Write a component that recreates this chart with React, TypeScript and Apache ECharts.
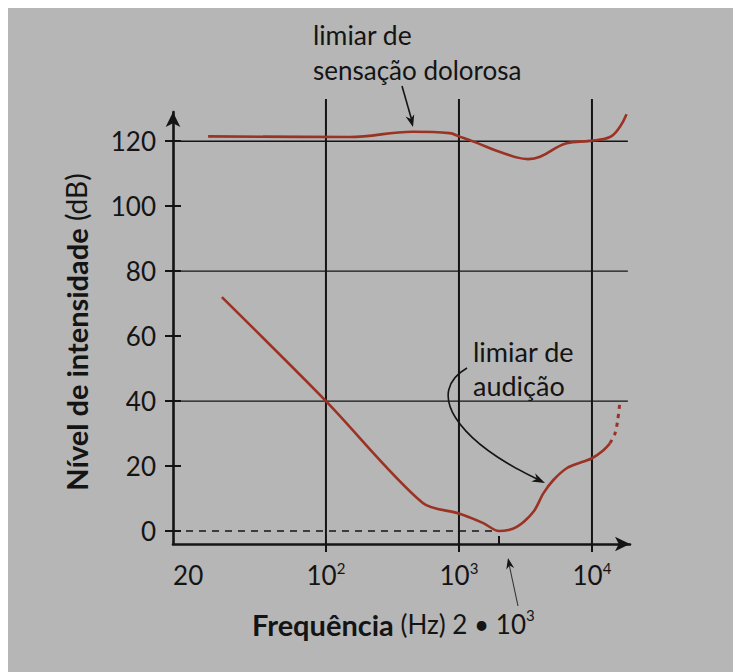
import React, { useEffect, useRef } from "react";
import * as echarts from "echarts";

// ---- data ----
// threshold of hearing (solid part)
const hearingFreqHz = [16.5, 100, 535, 1000, 1510, 2000, 2720, 3640, 4310, 5130, 6500, 8500, 10000, 12200, 13650];
const hearingDb = [72, 40, 8.6, 5.4, 2.5, 0, 1.3, 6, 11.6, 15.7, 19.4, 21.3, 22.4, 24.9, 27];
// threshold of hearing (dashed continuation)
const hearingExtFreqHz = [13650, 14900, 15600, 16200];
const hearingExtDb = [27, 30, 34, 39.5];
// threshold of pain
const painFreqHz = [13, 150, 450, 850, 1000, 1365, 2040, 3310, 4070, 6460, 9660, 13650, 16200, 18200];
const painDb = [121.5, 121.3, 122.9, 122.5, 121.5, 119.5, 116.7, 114.5, 115.2, 119.4, 120.1, 121.3, 124.4, 128.3];

const yTicks = [0, 20, 40, 60, 80, 100, 120];
const hGridDb = [40, 80, 120];
const vGridHz = [100, 1000, 10000];
const minimumHz = 2000;
// the schematic puts the "20" label at the origin of the axis
const xLabelHz = [9.2, 100, 1000, 10000];
const xLabelBase = ["20", "10", "10", "10"];
const xLabelSup = ["", "2", "3", "4"];

const lx = (f: number) => Math.log10(f);

const X_MIN = 0.85;
const X_MAX = 4.286;
const X_GRID_END = 4.27;
const Y_MIN = -4;
const Y_MAX = 129;
const V_TOP = 133;

const INK = "#141414";
const CURVE = "#9a3324";
const FONT = "Lato";
const BG = "#b6b6b6";

function arrowHead(tip: number[], from: number[], len: number, half: number) {
  const dx = tip[0] - from[0];
  const dy = tip[1] - from[1];
  const d = Math.hypot(dx, dy);
  const ux = dx / d, uy = dy / d;
  const bx = tip[0] - ux * len, by = tip[1] - uy * len;
  return [
    [tip[0], tip[1]],
    [bx - uy * half, by + ux * half],
    [tip[0] - ux * len * 0.7, tip[1] - uy * len * 0.7],
    [bx + uy * half, by - ux * half],
  ];
}

export default function App() {
  const ref = useRef<HTMLDivElement>(null);
  useEffect(() => {
    if (!ref.current) return;
    const chart = echarts.init(ref.current, undefined, { renderer: "svg" });

    const lineBase = { type: "line", showSymbol: false, silent: true, animation: false } as any;
    const gridSeries: any[] = [
      ...hGridDb.map((lvl) => ({
        ...lineBase,
        data: [[X_MIN, lvl], [X_GRID_END, lvl]],
        lineStyle: { color: INK, width: 1.4 },
        z: 1,
      })),
      ...vGridHz.map((f) => ({
        ...lineBase,
        clip: false,
        data: [[lx(f), Y_MIN], [lx(f), V_TOP]],
        lineStyle: { color: INK, width: 2 },
        z: 1,
      })),
      {
        ...lineBase,
        data: [[X_MIN, 0], [lx(minimumHz), 0]],
        lineStyle: { color: INK, width: 1.6, type: [7, 6] },
        z: 1,
      },
    ];

    const labelFmt = (v: number) => {
      let best = 0;
      xLabelHz.forEach((f, i) => {
        if (Math.abs(lx(f) - v) < Math.abs(lx(xLabelHz[best]) - v)) best = i;
      });
      return xLabelSup[best] ? `{b|${xLabelBase[best]}}{s|${xLabelSup[best]}}` : `{b|${xLabelBase[best]}}`;
    };

    const option: any = {
      animation: false,
      backgroundColor: "transparent",
      grid: { left: 165, top: 104, width: 457, height: 432 },
      xAxis: [
        {
          type: "value",
          min: X_MIN,
          max: X_MAX,
          position: "bottom",
          offset: 0,
          axisLine: {
            show: true,
            onZero: false,
            symbol: ["none", "arrow"],
            symbolSize: [11, 15],
            lineStyle: { color: INK, width: 2.6 },
          },
          axisTick: {
            show: true,
            customValues: vGridHz.map(lx),
            length: 8,
            lineStyle: { color: INK, width: 2 },
          },
          axisLabel: {
            show: true,
            customValues: xLabelHz.map(lx),
            margin: 16,
            formatter: labelFmt,
            rich: {
              b: { fontFamily: FONT, fontSize: 26, color: INK, lineHeight: 30 },
              s: { fontFamily: FONT, fontSize: 15, color: INK, lineHeight: 16, verticalAlign: "top" },
            },
          },
          splitLine: { show: false },
        },
        {
          type: "value",
          min: X_MIN,
          max: X_MAX,
          position: "bottom",
          offset: 0,
          axisLine: { show: false, onZero: false },
          axisTick: {
            show: true,
            inside: true,
            customValues: [lx(minimumHz)],
            length: 8,
            lineStyle: { color: INK, width: 2 },
          },
          axisLabel: { show: false },
          splitLine: { show: false },
        },
      ],
      yAxis: [
        {
          type: "value",
          min: Y_MIN,
          max: Y_MAX,
          position: "left",
          offset: 0,
          axisLine: {
            show: true,
            onZero: false,
            symbol: ["none", "arrow"],
            symbolSize: [11, 15],
            lineStyle: { color: INK, width: 2.6 },
          },
          axisTick: { show: true, customValues: yTicks, length: 8, lineStyle: { color: INK, width: 2 } },
          axisLabel: {
            show: true,
            customValues: yTicks,
            margin: 17,
            fontFamily: FONT,
            fontSize: 26,
            color: INK,
          },
          splitLine: { show: false },
        },
        {
          type: "value",
          min: Y_MIN,
          max: Y_MAX,
          position: "left",
          offset: 0,
          axisLine: { show: false, onZero: false },
          axisTick: { show: true, inside: true, customValues: yTicks, length: 8, lineStyle: { color: INK, width: 2 } },
          axisLabel: { show: false },
          splitLine: { show: false },
        },
      ],
      series: [
        ...gridSeries,
        {
          ...lineBase,
          name: "limiar de audição",
          smooth: 0.3,
          data: hearingFreqHz.map((f, i) => [lx(f), hearingDb[i]]),
          lineStyle: { color: CURVE, width: 2.6 },
          z: 3,
        },
        {
          ...lineBase,
          name: "limiar de audição (extrapolado)",
          smooth: 0.3,
          data: hearingExtFreqHz.map((f, i) => [lx(f), hearingExtDb[i]]),
          lineStyle: { color: CURVE, width: 3, type: [4, 5] },
          z: 3,
        },
        {
          ...lineBase,
          name: "limiar de sensação dolorosa",
          smooth: 0.4,
          data: painFreqHz.map((f, i) => [lx(f), painDb[i]]),
          lineStyle: { color: CURVE, width: 2.6 },
          z: 3,
        },
      ],
    };
    chart.setOption(option);

    // annotations
    const painTail = [394, 78];
    const painTip = [405, 119];
    const audStart = [459, 360];
    const audCp1 = [417, 384];
    const audCp2 = [447, 432];
    const audEnd = [537, 475];
    const minTail = [510, 598];
    const minTip = [500, 550];

    const txt = (text: string, x: number, y: number, size = 26) => ({
      type: "text",
      x,
      y,
      silent: true,
      style: { text, fontFamily: FONT, fontSize: size, fill: INK, align: "left", verticalAlign: "middle" },
    });

    chart.setOption({
      graphic: [
        txt("limiar de", 305, 27, 26.5),
        txt("sensação dolorosa", 305, 62),
        txt("limiar de", 465, 343, 27),
        txt("audição", 465, 377, 27),
        {
          type: "line",
          silent: true,
          shape: { x1: painTail[0], y1: painTail[1], x2: painTip[0] - 1, y2: painTip[1] - 6 },
          style: { stroke: INK, lineWidth: 1.6 },
        },
        {
          type: "polygon",
          silent: true,
          shape: { points: arrowHead(painTip, painTail, 12, 4.5) },
          style: { fill: INK },
        },
        {
          type: "bezierCurve",
          silent: true,
          shape: {
            x1: audStart[0], y1: audStart[1],
            cpx1: audCp1[0], cpy1: audCp1[1],
            cpx2: audCp2[0], cpy2: audCp2[1],
            x2: audEnd[0] - 6, y2: audEnd[1] - 3,
          },
          style: { stroke: INK, lineWidth: 1.6, fill: "none" },
        },
        {
          type: "polygon",
          silent: true,
          shape: { points: arrowHead(audEnd, audCp2, 13, 4.5) },
          style: { fill: INK },
        },
        {
          type: "line",
          silent: true,
          shape: { x1: minTail[0], y1: minTail[1], x2: minTip[0] + 1, y2: minTip[1] + 6 },
          style: { stroke: "#333", lineWidth: 1.1 },
        },
        {
          type: "polygon",
          silent: true,
          shape: { points: arrowHead(minTip, minTail, 11, 4) },
          style: { fill: INK },
        },
        {
          type: "text",
          x: 244,
          y: 616,
          silent: true,
          style: {
            text: "{b|Frequência}{r| (Hz) 2 • 10}{s|3}",
            align: "left",
            verticalAlign: "middle",
            rich: {
              b: { fontFamily: FONT, fontSize: 29, fontWeight: "bold", fill: INK, lineHeight: 34 },
              r: { fontFamily: FONT, fontSize: 26, fill: INK, lineHeight: 34 },
              s: { fontFamily: FONT, fontSize: 15, fill: INK, lineHeight: 18, verticalAlign: "top" },
            },
          },
        },
        {
          type: "text",
          x: 68,
          y: 324,
          rotation: Math.PI / 2,
          silent: true,
          style: {
            text: "{b|Nível de intensidade}{r| (dB)}",
            align: "center",
            verticalAlign: "middle",
            rich: {
              b: { fontFamily: FONT, fontSize: 29, fontWeight: "bold", fill: INK, lineHeight: 34 },
              r: { fontFamily: FONT, fontSize: 28, fill: INK, lineHeight: 34 },
            },
          },
        },
      ],
    });

    return () => chart.dispose();
  }, []);

  return (
    <div style={{ position: "fixed", left: 8, top: 8, right: -40, bottom: -40, background: BG, overflow: "hidden" }}>
      <div ref={ref} style={{ width: 725, height: 664 }} />
    </div>
  );
}
